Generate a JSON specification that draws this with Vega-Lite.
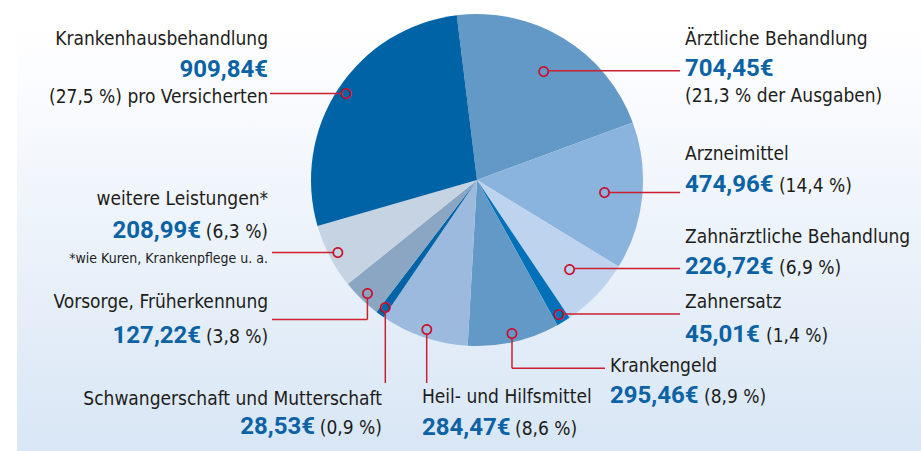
{
  "$schema": "https://vega.github.io/schema/vega-lite/v6.json",
  "width": 921,
  "height": 451,
  "autosize": {"type": "none"},
  "padding": 0,
  "background": "#ffffff",
  "config": {
    "view": {"stroke": null},
    "locale": {"number": {"decimal": ",", "thousands": ".", "grouping": [3], "currency": ["", "€"]}},
    "text": {"font": "DejaVu Sans Condensed", "baseline": "alphabetic", "fontSize": 19, "color": "#1d1d1b"},
    "rule": {"color": "#cc1f2f", "strokeWidth": 1.5}
  },
  "data": {
    "values": [
      {"idx": 1, "kategorie": "Ärztliche Behandlung", "betrag": 704.45, "anteil": 21.3, "anteilText": "(21,3 % der Ausgaben)"},
      {"idx": 2, "kategorie": "Arzneimittel", "betrag": 474.96, "anteil": 14.4, "anteilText": "(14,4 %)"},
      {"idx": 3, "kategorie": "Zahnärztliche Behandlung", "betrag": 226.72, "anteil": 6.9, "anteilText": "(6,9 %)"},
      {"idx": 4, "kategorie": "Zahnersatz", "betrag": 45.01, "anteil": 1.4, "anteilText": "(1,4 %)"},
      {"idx": 5, "kategorie": "Krankengeld", "betrag": 295.46, "anteil": 8.9, "anteilText": "(8,9 %)"},
      {"idx": 6, "kategorie": "Heil- und Hilfsmittel", "betrag": 284.47, "anteil": 8.6, "anteilText": "(8,6 %)"},
      {"idx": 7, "kategorie": "Schwangerschaft und Mutterschaft", "betrag": 28.53, "anteil": 0.9, "anteilText": "(0,9 %)"},
      {"idx": 8, "kategorie": "Vorsorge, Früherkennung", "betrag": 127.22, "anteil": 3.8, "anteilText": "(3,8 %)"},
      {"idx": 9, "kategorie": "weitere Leistungen*", "betrag": 208.99, "anteil": 6.3, "anteilText": "(6,3 %)", "hinweis": "*wie Kuren, Krankenpflege u. a."},
      {"idx": 10, "kategorie": "Krankenhausbehandlung", "betrag": 909.84, "anteil": 27.5, "anteilText": "(27,5 %) pro Versicherten"}
    ]
  },
  "layer": [
    {
      "data": {"values": [{}]},
      "mark": {"type": "rect", "fill": {"gradient": "linear", "x1": 0, "y1": 0, "x2": 0, "y2": 1, "stops": [{"offset": 0, "color": "#ffffff"}, {"offset": 0.1, "color": "#fefeff"}, {"offset": 1, "color": "#d8e6f5"}]}},
      "encoding": {}
    },
    {
      "data": {"values": [{}]},
      "mark": {"type": "rect", "fill": {"gradient": "linear", "x1": 0, "y1": 0, "x2": 1, "y2": 0, "stops": [{"offset": 0, "color": "rgba(255,255,255,1)"}, {"offset": 0.0184, "color": "rgba(255,255,255,1)"}, {"offset": 0.0186, "color": "rgba(255,255,255,0)"}, {"offset": 1, "color": "rgba(255,255,255,0)"}]}},
      "encoding": {}
    },
    {
      "encoding": {
        "x": {"datum": 0, "type": "quantitative", "scale": {"domain": [-2.873494, 2.674699], "nice": false, "zero": false}, "axis": null},
        "y": {"datum": 0, "type": "quantitative", "scale": {"domain": [-1.63253, 1.084337], "nice": false, "zero": false}, "axis": null},
        "theta": {"field": "betrag", "type": "quantitative", "stack": true, "scale": {"range": [-0.12217, 6.16101]}},
        "order": {"field": "idx", "type": "quantitative"}
      },
      "layer": [
        {
          "mark": {"type": "arc", "radius": 166},
          "encoding": {
            "color": {"field": "kategorie", "type": "nominal", "legend": null,
              "scale": {
                "domain": ["Ärztliche Behandlung", "Arzneimittel", "Zahnärztliche Behandlung", "Zahnersatz", "Krankengeld", "Heil- und Hilfsmittel", "Schwangerschaft und Mutterschaft", "Vorsorge, Früherkennung", "weitere Leistungen*", "Krankenhausbehandlung"],
                "range": ["#6399c6", "#8ab3de", "#bed3ee", "#0071b9", "#6399c6", "#9bbadd", "#0063a5", "#8ba6c3", "#c6d3e2", "#0063a5"]
              }}
          }
        },
        {
          "mark": {"type": "text", "radius": 128, "align": "center", "baseline": "middle", "font": "DejaVu Sans", "fontSize": 13, "color": "#c8102e", "stroke": "#c8102e", "strokeWidth": 0.8},
          "encoding": {"text": {"condition": {"test": "datum.idx <= 3", "value": "○"}, "value": ""}}
        },
        {
          "mark": {"type": "text", "radius": 157, "align": "center", "baseline": "middle", "font": "DejaVu Sans", "fontSize": 13, "color": "#c8102e", "stroke": "#c8102e", "strokeWidth": 0.8},
          "encoding": {"text": {"condition": {"test": "datum.idx > 3", "value": "○"}, "value": ""}}
        },

        {"mark": {"type": "text", "radius": 200, "align": "right", "dx": -42.1, "dy": -24.7},
         "encoding": {"text": {"condition": {"test": "datum.idx === 10", "field": "kategorie"}, "value": ""}}},
        {"mark": {"type": "text", "radius": 200, "align": "right", "dx": -42.1, "dy": 7.3, "font": "Roboto", "fontSize": 24, "fontWeight": "bold", "color": "#0b62a4"},
         "encoding": {"text": {"condition": {"test": "datum.idx === 10", "field": "betrag", "type": "quantitative", "format": "$.2f"}, "value": ""}}},
        {"mark": {"type": "text", "radius": 200, "align": "right", "dx": -42.1, "dy": 33.3},
         "encoding": {"text": {"condition": {"test": "datum.idx === 10", "field": "anteilText"}, "value": ""}}},

        {"mark": {"type": "text", "radius": 200, "align": "left", "dx": 103.9, "dy": 35.8},
         "encoding": {"text": {"condition": {"test": "datum.idx === 1", "field": "kategorie"}, "value": ""}}},
        {"mark": {"type": "text", "radius": 200, "align": "left", "dx": 103.9, "dy": 66.8, "font": "Roboto", "fontSize": 24, "fontWeight": "bold", "color": "#0b62a4"},
         "encoding": {"text": {"condition": {"test": "datum.idx === 1", "field": "betrag", "type": "quantitative", "format": "$.2f"}, "value": ""}}},
        {"mark": {"type": "text", "radius": 200, "align": "left", "dx": 103.9, "dy": 92.8},
         "encoding": {"text": {"condition": {"test": "datum.idx === 1", "field": "anteilText"}, "value": ""}}},

        {"mark": {"type": "text", "radius": 200, "align": "left", "dx": 8.9, "dy": -39.4},
         "encoding": {"text": {"condition": {"test": "datum.idx === 2", "field": "kategorie"}, "value": ""}}},
        {"mark": {"type": "text", "radius": 200, "align": "left", "dx": 8.9, "dy": -7.4, "font": "Roboto", "fontSize": 24, "fontWeight": "bold", "color": "#0b62a4"},
         "encoding": {"text": {"condition": {"test": "datum.idx === 2", "field": "betrag", "type": "quantitative", "format": "$.2f"}, "value": ""}}},
        {"mark": {"type": "text", "radius": 200, "align": "left", "dx": 102.9, "dy": -7.4},
         "encoding": {"text": {"condition": {"test": "datum.idx === 2", "field": "anteilText"}, "value": ""}}},

        {"mark": {"type": "text", "radius": 200, "align": "left", "dx": 63.6, "dy": -75.4},
         "encoding": {"text": {"condition": {"test": "datum.idx === 3", "field": "kategorie"}, "value": ""}}},
        {"mark": {"type": "text", "radius": 200, "align": "left", "dx": 63.6, "dy": -44.4, "font": "Roboto", "fontSize": 24, "fontWeight": "bold", "color": "#0b62a4"},
         "encoding": {"text": {"condition": {"test": "datum.idx === 3", "field": "betrag", "type": "quantitative", "format": "$.2f"}, "value": ""}}},
        {"mark": {"type": "text", "radius": 200, "align": "left", "dx": 157.6, "dy": -44.4},
         "encoding": {"text": {"condition": {"test": "datum.idx === 3", "field": "anteilText"}, "value": ""}}},

        {"mark": {"type": "text", "radius": 200, "align": "left", "dx": 103.8, "dy": -42.7},
         "encoding": {"text": {"condition": {"test": "datum.idx === 4", "field": "kategorie"}, "value": ""}}},
        {"mark": {"type": "text", "radius": 200, "align": "left", "dx": 103.8, "dy": -8.7, "font": "Roboto", "fontSize": 24, "fontWeight": "bold", "color": "#0b62a4"},
         "encoding": {"text": {"condition": {"test": "datum.idx === 4", "field": "betrag", "type": "quantitative", "format": "$.2f"}, "value": ""}}},
        {"mark": {"type": "text", "radius": 200, "align": "left", "dx": 184.8, "dy": -8.7},
         "encoding": {"text": {"condition": {"test": "datum.idx === 4", "field": "anteilText"}, "value": ""}}},

        {"mark": {"type": "text", "radius": 200, "align": "left", "dx": 88.4, "dy": -3},
         "encoding": {"text": {"condition": {"test": "datum.idx === 5", "field": "kategorie"}, "value": ""}}},
        {"mark": {"type": "text", "radius": 200, "align": "left", "dx": 88.4, "dy": 28, "font": "Roboto", "fontSize": 24, "fontWeight": "bold", "color": "#0b62a4"},
         "encoding": {"text": {"condition": {"test": "datum.idx === 5", "field": "betrag", "type": "quantitative", "format": "$.2f"}, "value": ""}}},
        {"mark": {"type": "text", "radius": 200, "align": "left", "dx": 182.4, "dy": 28},
         "encoding": {"text": {"condition": {"test": "datum.idx === 5", "field": "anteilText"}, "value": ""}}},

        {"mark": {"type": "text", "radius": 200, "align": "left", "dx": 9.1, "dy": 33.6},
         "encoding": {"text": {"condition": {"test": "datum.idx === 6", "field": "kategorie"}, "value": ""}}},
        {"mark": {"type": "text", "radius": 200, "align": "left", "dx": 9.1, "dy": 65.6, "font": "Roboto", "fontSize": 24, "fontWeight": "bold", "color": "#0b62a4"},
         "encoding": {"text": {"condition": {"test": "datum.idx === 6", "field": "betrag", "type": "quantitative", "format": "$.2f"}, "value": ""}}},
        {"mark": {"type": "text", "radius": 200, "align": "left", "dx": 102.1, "dy": 65.6},
         "encoding": {"text": {"condition": {"test": "datum.idx === 6", "field": "anteilText"}, "value": ""}}},

        {"mark": {"type": "text", "radius": 200, "align": "right", "dx": 21.8, "dy": 62.7},
         "encoding": {"text": {"condition": {"test": "datum.idx === 7", "field": "kategorie"}, "value": ""}}},
        {"mark": {"type": "text", "radius": 200, "align": "right", "dx": -45.2, "dy": 91.7, "font": "Roboto", "fontSize": 24, "fontWeight": "bold", "color": "#0b62a4"},
         "encoding": {"text": {"condition": {"test": "datum.idx === 7", "field": "betrag", "type": "quantitative", "format": "$.2f"}, "value": ""}}},
        {"mark": {"type": "text", "radius": 200, "align": "right", "dx": 21.8, "dy": 91.7},
         "encoding": {"text": {"condition": {"test": "datum.idx === 7", "field": "anteilText"}, "value": ""}}},

        {"mark": {"type": "text", "radius": 200, "align": "right", "dx": -69.4, "dy": -15.3},
         "encoding": {"text": {"condition": {"test": "datum.idx === 8", "field": "kategorie"}, "value": ""}}},
        {"mark": {"type": "text", "radius": 200, "align": "right", "dx": -136.4, "dy": 19.7, "font": "Roboto", "fontSize": 24, "fontWeight": "bold", "color": "#0b62a4"},
         "encoding": {"text": {"condition": {"test": "datum.idx === 8", "field": "betrag", "type": "quantitative", "format": "$.2f"}, "value": ""}}},
        {"mark": {"type": "text", "radius": 200, "align": "right", "dx": -69.4, "dy": 19.7},
         "encoding": {"text": {"condition": {"test": "datum.idx === 8", "field": "anteilText"}, "value": ""}}},

        {"mark": {"type": "text", "radius": 200, "align": "right", "dx": -31.5, "dy": -67.2},
         "encoding": {"text": {"condition": {"test": "datum.idx === 9", "field": "kategorie"}, "value": ""}}},
        {"mark": {"type": "text", "radius": 200, "align": "right", "dx": -98.5, "dy": -34.2, "font": "Roboto", "fontSize": 24, "fontWeight": "bold", "color": "#0b62a4"},
         "encoding": {"text": {"condition": {"test": "datum.idx === 9", "field": "betrag", "type": "quantitative", "format": "$.2f"}, "value": ""}}},
        {"mark": {"type": "text", "radius": 200, "align": "right", "dx": -31.5, "dy": -34.2},
         "encoding": {"text": {"condition": {"test": "datum.idx === 9", "field": "anteilText"}, "value": ""}}},
        {"mark": {"type": "text", "radius": 200, "align": "right", "dx": -31.5, "dy": -9.2, "fontSize": 14},
         "encoding": {"text": {"condition": {"test": "datum.idx === 9", "field": "hinweis"}, "value": ""}}}
      ]
    },
    {
      "data": {"values": [{}]},
      "layer": [
        {"mark": "rule", "encoding": {
          "x": {"datum": -1.247, "type": "quantitative", "scale": {"domain": [-2.873494, 2.674699], "nice": false, "zero": false}, "axis": null},
          "x2": {"datum": -0.8163},
          "y": {"datum": 0.5217, "type": "quantitative", "scale": {"domain": [-1.63253, 1.084337], "nice": false, "zero": false}, "axis": null}}},
        {"mark": "rule", "encoding": {
          "x": {"datum": 0.4277, "type": "quantitative", "scale": {"domain": [-2.873494, 2.674699], "nice": false, "zero": false}, "axis": null},
          "x2": {"datum": 1.2229},
          "y": {"datum": 0.6584, "type": "quantitative", "scale": {"domain": [-1.63253, 1.084337], "nice": false, "zero": false}, "axis": null}}},
        {"mark": "rule", "encoding": {
          "x": {"datum": 0.7952, "type": "quantitative", "scale": {"domain": [-2.873494, 2.674699], "nice": false, "zero": false}, "axis": null},
          "x2": {"datum": 1.2229},
          "y": {"datum": -0.0747, "type": "quantitative", "scale": {"domain": [-1.63253, 1.084337], "nice": false, "zero": false}, "axis": null}}},
        {"mark": "rule", "encoding": {
          "x": {"datum": 0.5843, "type": "quantitative", "scale": {"domain": [-2.873494, 2.674699], "nice": false, "zero": false}, "axis": null},
          "x2": {"datum": 1.2229},
          "y": {"datum": -0.5337, "type": "quantitative", "scale": {"domain": [-1.63253, 1.084337], "nice": false, "zero": false}, "axis": null}}},
        {"mark": "rule", "encoding": {
          "x": {"datum": 0.5199, "type": "quantitative", "scale": {"domain": [-2.873494, 2.674699], "nice": false, "zero": false}, "axis": null},
          "x2": {"datum": 1.2229},
          "y": {"datum": -0.8072, "type": "quantitative", "scale": {"domain": [-1.63253, 1.084337], "nice": false, "zero": false}, "axis": null}}},
        {"mark": "rule", "encoding": {
          "x": {"datum": 0.2108, "type": "quantitative", "scale": {"domain": [-2.873494, 2.674699], "nice": false, "zero": false}, "axis": null},
          "y": {"datum": -0.9494, "type": "quantitative", "scale": {"domain": [-1.63253, 1.084337], "nice": false, "zero": false}, "axis": null},
          "y2": {"datum": -1.1343}}},
        {"mark": "rule", "encoding": {
          "x": {"datum": 0.2108, "type": "quantitative", "scale": {"domain": [-2.873494, 2.674699], "nice": false, "zero": false}, "axis": null},
          "x2": {"datum": 0.7711},
          "y": {"datum": -1.1343, "type": "quantitative", "scale": {"domain": [-1.63253, 1.084337], "nice": false, "zero": false}, "axis": null}}},
        {"mark": "rule", "encoding": {
          "x": {"datum": -0.303, "type": "quantitative", "scale": {"domain": [-2.873494, 2.674699], "nice": false, "zero": false}, "axis": null},
          "y": {"datum": -0.9229, "type": "quantitative", "scale": {"domain": [-1.63253, 1.084337], "nice": false, "zero": false}, "axis": null},
          "y2": {"datum": -1.2229}}},
        {"mark": "rule", "encoding": {
          "x": {"datum": -0.5524, "type": "quantitative", "scale": {"domain": [-2.873494, 2.674699], "nice": false, "zero": false}, "axis": null},
          "y": {"datum": -0.7946, "type": "quantitative", "scale": {"domain": [-1.63253, 1.084337], "nice": false, "zero": false}, "axis": null},
          "y2": {"datum": -1.2229}}},
        {"mark": "rule", "encoding": {
          "x": {"datum": -0.6602, "type": "quantitative", "scale": {"domain": [-2.873494, 2.674699], "nice": false, "zero": false}, "axis": null},
          "y": {"datum": -0.7048, "type": "quantitative", "scale": {"domain": [-1.63253, 1.084337], "nice": false, "zero": false}, "axis": null},
          "y2": {"datum": -0.8404}}},
        {"mark": "rule", "encoding": {
          "x": {"datum": -1.2349, "type": "quantitative", "scale": {"domain": [-2.873494, 2.674699], "nice": false, "zero": false}, "axis": null},
          "x2": {"datum": -0.6602},
          "y": {"datum": -0.8404, "type": "quantitative", "scale": {"domain": [-1.63253, 1.084337], "nice": false, "zero": false}, "axis": null}}},
        {"mark": "rule", "encoding": {
          "x": {"datum": -1.2349, "type": "quantitative", "scale": {"domain": [-2.873494, 2.674699], "nice": false, "zero": false}, "axis": null},
          "x2": {"datum": -0.8663},
          "y": {"datum": -0.4361, "type": "quantitative", "scale": {"domain": [-1.63253, 1.084337], "nice": false, "zero": false}, "axis": null}}}
      ]
    }
  ]
}
